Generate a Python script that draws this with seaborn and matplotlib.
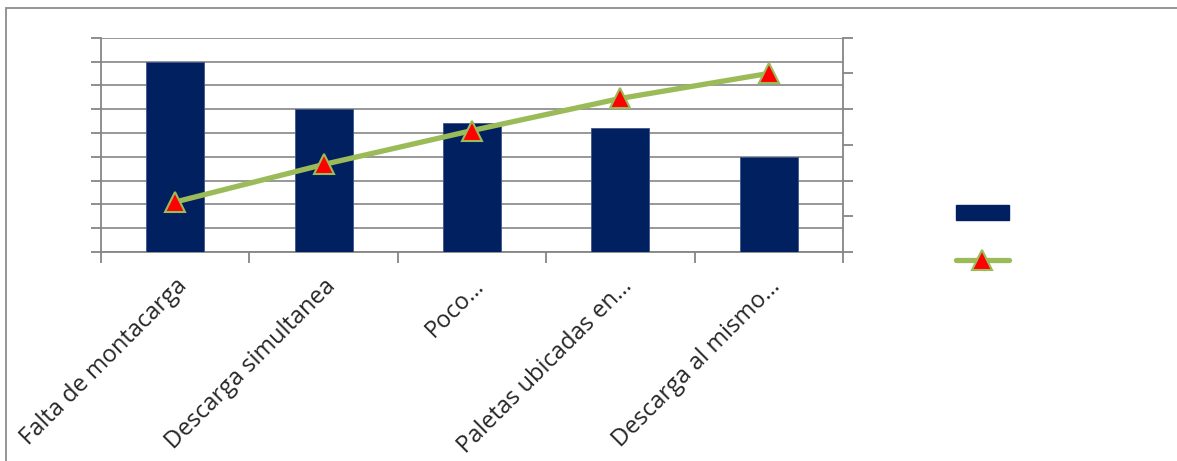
import matplotlib
matplotlib.use("Agg")
import matplotlib.pyplot as plt
import seaborn as sns
import numpy as np
from matplotlib.patches import Patch, Rectangle
from matplotlib.lines import Line2D
from matplotlib.ticker import FixedLocator, NullFormatter

categories = ["Falta de montacarga", "Descarga simultanea", "Poco…",
              "Paletas ubicadas en…", "Descarga al mismo…"]
frequency = [8.0, 6.0, 5.4, 5.2, 4.0]
cumulative = [0.28, 0.49, 0.68, 0.86, 1.00]

sns.set_theme(style="white")
plt.rcParams['font.family'] = ['Open Sans', 'DejaVu Sans']

W, H = 1177, 461
fig = plt.figure(figsize=(W / 100, H / 100), dpi=100)

# outer border
fig.patches.append(Rectangle((6 / W, -0.1), 1.2, 1 - 8 / H + 0.1, transform=fig.transFigure,
                             fill=False, edgecolor="#8c8c8c", linewidth=1.3))

ax = fig.add_axes([101 / W, 1 - 252 / H, (843 - 101) / W, (252 - 37.7) / H])
grey = "#868686"

sns.barplot(x=categories, y=frequency, ax=ax, color="#002060", width=0.39,
            saturation=1, edgecolor="#40548a", linewidth=0.6, zorder=3)
ax.set_xlim(-0.5, 4.5)
ax.set_ylim(0, 9)
ax.set_yticks(np.arange(0, 10, 1))
ax.yaxis.set_major_formatter(NullFormatter())
ax.grid(axis="y", color=grey, linewidth=1.2, zorder=0)
ax.set_axisbelow(True)

# category boundaries as major ticks, labels at centers
ax.xaxis.set_major_locator(FixedLocator(np.arange(-0.5, 5, 1)))
ax.xaxis.set_major_formatter(NullFormatter())
ax.xaxis.set_minor_locator(FixedLocator(np.arange(0, 5, 1)))
ax.set_xticklabels(categories, minor=True, rotation=45, ha="right", va="top",
                   rotation_mode="anchor", fontsize=17)
ax.tick_params(axis="x", which="minor", length=0, pad=16)
ax.tick_params(axis="x", which="major", length=8, width=1.3, color=grey, direction="out")
ax.tick_params(axis="y", length=7, width=1.3, color=grey, direction="out")
ax.tick_params(axis="both", bottom=True, left=True)
for side in ["left", "bottom"]:
    ax.spines[side].set_color(grey)
    ax.spines[side].set_linewidth(1.3)
for side in ["top", "right"]:
    ax.spines[side].set_visible(False)
ax.set_xlabel("")
ax.set_ylabel("")

ax2 = ax.twinx()
sns.lineplot(x=np.arange(len(categories)), y=cumulative, ax=ax2, color="#9BBB59",
             linewidth=3.8, marker="^", markersize=14, markerfacecolor="#FF0000",
             markeredgecolor="#9BBB59", markeredgewidth=1.5, zorder=5)
ax2.set_ylim(0, 1.2)
ax2.set_yticks(np.arange(0, 1.21, 0.2))
ax2.yaxis.set_major_formatter(NullFormatter())
ax2.tick_params(axis="y", right=True, length=7, width=1.3, color=grey, direction="out")
for side in ["left", "bottom", "top"]:
    ax2.spines[side].set_visible(False)
ax2.spines["right"].set_color(grey)
ax2.spines["right"].set_linewidth(1.3)
ax2.set_ylabel("")
ax2.set_xlim(-0.5, 4.5)

handles = [Patch(facecolor="#002060", edgecolor="#002060"),
           Line2D([], [], color="#9BBB59", linewidth=3.8, marker="^", markersize=14,
                  markerfacecolor="#FF0000", markeredgecolor="#9BBB59",
                  markeredgewidth=1.5, solid_capstyle="round")]
fig.legend(handles, [" ", " "], loc="center left", bbox_to_anchor=(946 / W, 1 - 238 / H),
           frameon=False, handlelength=2.75, handleheight=0.77, labelspacing=1.5,
           fontsize=14, borderpad=0, handletextpad=0.4)

fig.savefig("out.png", dpi=100)
